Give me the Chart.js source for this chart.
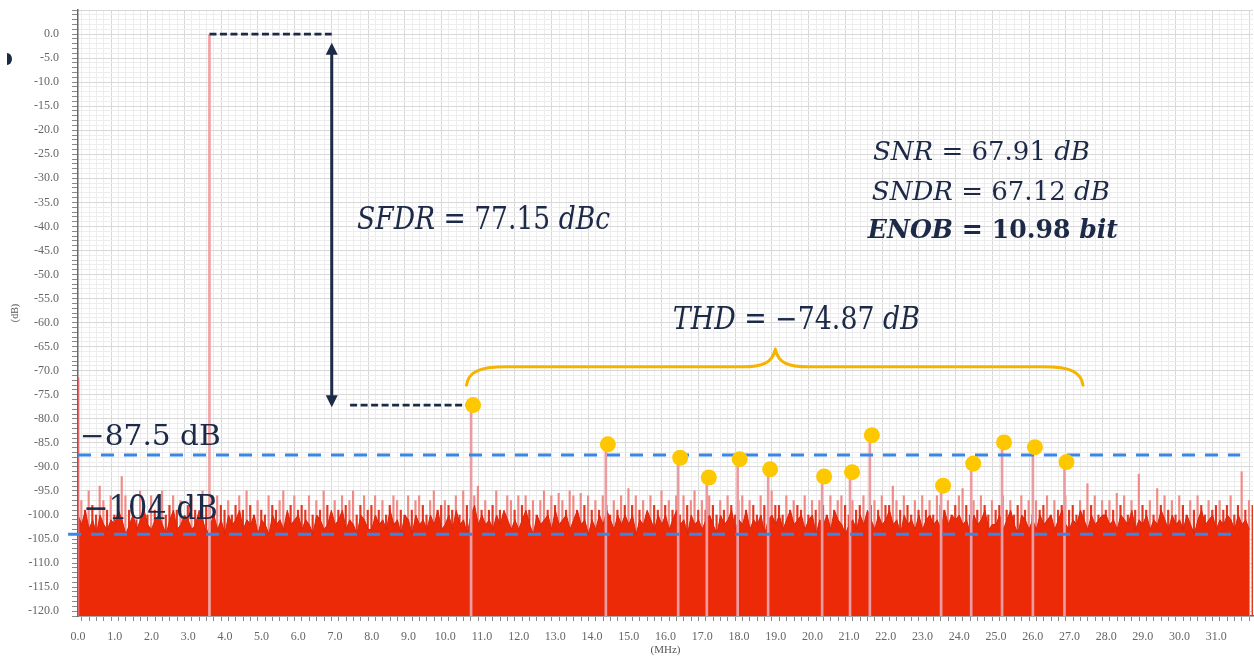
<!DOCTYPE html>
<html>
<head>
<meta charset="utf-8">
<script src="https://cdn.jsdelivr.net/npm/chart.js@4.4.1/dist/chart.umd.min.js"></script>
<style>
  html, body { margin: 0; padding: 0; background: #fff; }
</style>
</head>
<body>
<canvas id="fftChart" width="1254" height="657"></canvas>
<script>
// noise bins are 0.1 MHz apart, one row per MHz (0.0 .. 31.9)
let BIN_STEP = 0.1;

// upper noise spikes, sitting half a bin to the right
let grassDb = [
  -97, -99, -95, -98, -100, -94, -97, -99, -96, -100,
  -98, -92, -96, -99, -97, -101, -95, -98, -100, -96,
  -99, -97, -95, -100, -98, -96, -99, -97, -101, -98,
  -96, -99, -100, -95, -98, -97, -100, -96, -98, -99,
  -97, -100, -98, -96, -99, -95, -98, -100, -97, -99,
  -100, -96, -98, -99, -97, -95, -100, -98, -96, -99,
  -98, -99, -96, -100, -97, -99, -95, -98, -100, -97,
  -99, -96, -98, -97, -95, -100, -98, -96, -99, -98,
  -96, -99, -97, -100, -98, -96, -97, -99, -100, -96,
  -99, -97, -96, -98, -100, -97, -95, -99, -98, -97,
  -98, -99, -96, -100, -95, -98, -97, -96, -94, -99,
  -97, -99, -98, -95, -99, -100, -96, -97, -99, -96,
  -98, -96, -99, -97, -100, -97, -95, -99, -96, -98,
  -95.5, -97, -99, -95, -96, -99, -95.5, -98, -96, -99,
  -97, -99, -96, -98, -100, -97, -99, -96, -98, -94.5,
  -98, -96, -99, -97, -100, -96, -98, -99, -95, -98,
  -97, -99, -96, -100, -96, -98, -97, -95, -99, -97,
  -99, -96, -98, -100, -97, -99, -96, -98, -100, -97,
  -96, -99, -97, -98, -100, -96, -98, -99, -95, -98,
  -98, -100, -96, -99, -97, -98, -99, -96, -100, -97,
  -99, -97, -98, -100, -96, -99, -97, -96, -98, -100,
  -97, -99, -98, -96, -100, -98, -97, -99, -96, -98,
  -98, -94, -97, -99, -96, -98, -100, -97, -99, -96,
  -99, -97, -100, -96, -98, -99, -97, -100, -98, -96,
  -94.5, -98, -100, -97, -99, -96, -98, -100, -97, -99,
  -98, -96, -99, -97, -100, -98, -96, -99, -97, -100,
  -97, -99, -98, -96, -100, -97, -99, -98, -96, -99,
  -98, -100, -97, -99, -93.5, -98, -96, -100, -97, -99,
  -97, -99, -95.5, -98, -96, -100, -97, -99, -91.5, -98,
  -99, -97, -100, -94.5, -98, -96, -99, -97, -100, -96,
  -98, -100, -97, -99, -96, -98, -100, -97, -99, -98,
  -97, -99, -98, -96, -100, -98, -91, -99, -97, -98
];

// dense noise floor (filled)
let floorDb = [
  -100, -102, -99, -103, -101, -104, -100, -102, -103, -101,
  -102, -99, -101, -104, -102, -100, -103, -101, -99, -102,
  -103, -101, -100, -102, -104, -101, -99, -103, -102, -100,
  -101, -103, -102, -99, -101, -104, -102, -100, -103, -101,
  -104, -100, -102, -101, -99, -103, -101, -102, -100, -104,
  -101, -102, -104, -100, -102, -101, -103, -99, -102, -101,
  -100, -103, -101, -102, -104, -100, -101, -103, -102, -99,
  -102, -101, -99, -103, -101, -102, -104, -100, -101, -103,
  -103, -100, -102, -101, -103, -99, -102, -101, -104, -100,
  -101, -104, -100, -102, -101, -103, -100, -102, -99, -103,
  -102, -100, -103, -99, -102, -101, -104, -100, -98, -102,
  -100, -102, -101, -103, -100, -102, -99, -101, -103, -101,
  -103, -101, -99, -102, -104, -100, -102, -101, -100, -103,
  -99, -102, -101, -100, -103, -101, -99, -102, -101, -104,
  -101, -103, -100, -102, -99, -101, -103, -100, -102, -100,
  -102, -100, -104, -101, -102, -99, -101, -103, -100, -102,
  -100, -103, -101, -99, -102, -101, -104, -100, -102, -101,
  -103, -101, -100, -102, -104, -100, -102, -101, -99, -103,
  -101, -102, -99, -103, -101, -102, -100, -104, -101, -100,
  -102, -100, -103, -101, -99, -102, -101, -100, -103, -101,
  -100, -104, -101, -102, -100, -103, -99, -101, -102, -104,
  -102, -101, -103, -100, -102, -99, -101, -103, -100, -102,
  -101, -99, -102, -101, -104, -100, -102, -101, -103, -100,
  -103, -101, -100, -102, -101, -103, -99, -102, -100, -101,
  -100, -102, -101, -104, -100, -102, -101, -99, -103, -102,
  -102, -100, -103, -101, -99, -102, -104, -100, -101, -103,
  -101, -103, -100, -102, -101, -100, -103, -101, -99, -102,
  -103, -101, -102, -99, -101, -103, -100, -102, -101, -100,
  -100, -102, -101, -103, -100, -101, -102, -99, -103, -101,
  -102, -100, -103, -101, -102, -99, -101, -103, -100, -102,
  -101, -103, -100, -102, -104, -101, -99, -102, -101, -100,
  -103, -101, -102, -100, -101, -103, -100, -102, -101, -103
];

// DC bin and the fundamental
let toneMHz = [0.0, 3.58];
let toneDb = [-71.5, 0.0];

// harmonic / spur bins
let spurMHz = [10.76, 14.43, 16.40, 17.18, 18.02, 18.85, 20.32, 21.08, 21.62, 23.56, 24.38, 25.22, 26.06, 26.92];
let spurDb = [-77.15, -85.3, -88.1, -92.2, -88.4, -90.5, -92.0, -91.1, -83.4, -93.9, -89.3, -84.9, -85.9, -89.0];

// reference levels
let levelDb = [-87.5, -104];
let levelLabels = ['\u221287.5 dB', '\u2212104 dB'];

let Y_MIN = -121, Y_MAX = 5;
let X_MIN = 0, X_MAX = 32;

let NAVY = '#1c2a48';
let GOLD = '#f5b400';

function isMajor(v, step) {
  return Math.abs(v / step - Math.round(v / step)) < 1e-6;
}

function gridColor(step) {
  return c => (c.tick && !isMajor(c.tick.value, step) ? '#ededed' : '#d8d8d8');
}

function stem(x, y) {
  return { x: x, y: [Y_MIN, y] };
}

// math style text: italic symbols, upright numbers, squeezed into a given width
function drawMath(ctx, parts, x, y, width, size, weight) {
  let fontOf = p => (p[1] ? 'italic ' : '') + (weight || 'normal') + ' ' + size + 'px "DejaVu Serif"';
  let w = 0;
  parts.forEach(p => { ctx.font = fontOf(p); w += ctx.measureText(p[0]).width; });
  ctx.save();
  ctx.translate(x, y);
  ctx.scale(width / w, 1);
  ctx.fillStyle = NAVY;
  ctx.textAlign = 'left';
  ctx.textBaseline = 'alphabetic';
  let cx = 0;
  parts.forEach(p => {
    ctx.font = fontOf(p);
    ctx.fillText(p[0], cx, 0);
    cx += ctx.measureText(p[0]).width;
  });
  ctx.restore();
}

let notes = {
  id: 'notes',
  afterDraw(chart) {
    let ctx = chart.ctx;
    let xs = v => chart.scales.x.getPixelForValue(v);
    let ys = v => chart.scales.y.getPixelForValue(v);

    // SFDR double arrow
    let ax = xs(6.91), top = ys(-1.8), bot = ys(-77.6);
    ctx.save();
    ctx.strokeStyle = NAVY;
    ctx.fillStyle = NAVY;
    ctx.lineWidth = 3;
    ctx.beginPath();
    ctx.moveTo(ax, top + 10);
    ctx.lineTo(ax, bot - 10);
    ctx.stroke();
    ctx.beginPath();
    ctx.moveTo(ax, top); ctx.lineTo(ax - 6, top + 12); ctx.lineTo(ax + 6, top + 12); ctx.closePath();
    ctx.fill();
    ctx.beginPath();
    ctx.moveTo(ax, bot); ctx.lineTo(ax - 6, bot - 12); ctx.lineTo(ax + 6, bot - 12); ctx.closePath();
    ctx.fill();

    // THD brace
    let lx = xs(10.58), rx = xs(27.37), tx = xs(18.99);
    let endY = ys(-73.0), sh = ys(-69.2), tipY = ys(-65.5);
    ctx.strokeStyle = GOLD;
    ctx.lineWidth = 3;
    ctx.lineCap = 'round';
    ctx.lineJoin = 'round';
    ctx.beginPath();
    ctx.moveTo(lx, endY);
    ctx.bezierCurveTo(lx + 2, sh + 5, lx + 12, sh, lx + 40, sh);
    ctx.lineTo(tx - 34, sh);
    ctx.bezierCurveTo(tx - 12, sh, tx - 3, sh - 4, tx, tipY);
    ctx.bezierCurveTo(tx + 3, sh - 4, tx + 12, sh, tx + 34, sh);
    ctx.lineTo(rx - 40, sh);
    ctx.bezierCurveTo(rx - 12, sh, rx - 2, sh + 5, rx, endY);
    ctx.stroke();

    // small side marker
    ctx.fillStyle = NAVY;
    ctx.beginPath();
    ctx.ellipse(7, 59, 5, 6, 0, -Math.PI / 2, Math.PI / 2);
    ctx.fill();
    ctx.restore();

    drawMath(ctx, [['SFDR', 1], [' = 77.15 ', 0], ['dBc', 1]], xs(7.60), ys(-40.5), xs(14.49) - xs(7.60), 31);
    drawMath(ctx, [['THD', 1], [' = \u221274.87 ', 0], ['dB', 1]], xs(16.20), ys(-61.3), xs(22.93) - xs(16.20), 31);
    drawMath(ctx, [['SNR', 1], [' = 67.91 ', 0], ['dB', 1]], xs(21.65), ys(-26.2), xs(27.56) - xs(21.65), 26);
    drawMath(ctx, [['SNDR', 1], [' = 67.12 ', 0], ['dB', 1]], xs(21.62), ys(-34.5), xs(28.10) - xs(21.62), 26);
    drawMath(ctx, [['ENOB', 1], [' = 10.98 ', 0], ['bit', 1]], xs(21.51), ys(-42.4), xs(28.32) - xs(21.51), 26, 'bold');
    drawMath(ctx, [[levelLabels[0], 0]], xs(0.05), ys(-85.4), xs(3.89) - xs(0.05), 28);
    drawMath(ctx, [[levelLabels[1], 0]], xs(0.14), ys(-100.8), xs(3.81) - xs(0.14), 33);
  }
};

let tickFont = { family: 'Liberation Serif', size: 12 };

new Chart(document.getElementById('fftChart'), {
  type: 'line',
  data: {
    datasets: [
      {
        // spur markers
        type: 'scatter',
        data: spurMHz.map((f, i) => ({ x: f, y: spurDb[i] })),
        pointRadius: 8,
        pointBackgroundColor: '#fdc800',
        pointBorderWidth: 0,
        showLine: false,
        order: 0
      },
      {
        type: 'line',
        data: [{ x: X_MIN, y: levelDb[0] }, { x: 31.65, y: levelDb[0] }],
        borderColor: '#3a86e6',
        borderWidth: 3,
        borderDash: [13, 10],
        pointRadius: 0,
        clip: false,
        order: 1
      },
      {
        type: 'line',
        data: [{ x: -0.27, y: levelDb[1] }, { x: 31.65, y: levelDb[1] }],
        borderColor: '#3a86e6',
        borderWidth: 3,
        borderDash: [13, 10],
        pointRadius: 0,
        clip: false,
        order: 1
      },
      {
        // SFDR guides: fundamental level and largest spur level
        type: 'line',
        data: [{ x: toneMHz[1], y: toneDb[1] }, { x: 6.91, y: toneDb[1] }],
        borderColor: NAVY,
        borderWidth: 2.8,
        borderDash: [7, 3.5],
        pointRadius: 0,
        clip: false,
        order: 1
      },
      {
        type: 'line',
        data: [{ x: 7.41, y: spurDb[0] }, { x: spurMHz[0], y: spurDb[0] }],
        borderColor: NAVY,
        borderWidth: 2.8,
        borderDash: [7, 3.5],
        pointRadius: 0,
        order: 1
      },
      {
        type: 'bar',
        data: spurMHz.map((f, i) => stem(f, spurDb[i])),
        backgroundColor: '#eb9ca2',
        barThickness: 2,
        order: 2
      },
      {
        type: 'bar',
        data: toneMHz.map((f, i) => stem(f, toneDb[i])),
        backgroundColor: ['#e26a6a', '#f0a2a2'],
        barThickness: 2,
        order: 2
      },
      {
        // noise floor
        type: 'line',
        data: floorDb.map((v, i) => ({ x: i * BIN_STEP, y: v })),
        borderColor: '#d8260e',
        borderWidth: 1,
        backgroundColor: '#ec2a08',
        fill: 'start',
        pointRadius: 0,
        tension: 0,
        order: 3
      },
      {
        type: 'bar',
        data: grassDb.map((v, i) => stem(i * BIN_STEP + BIN_STEP / 2, v)),
        backgroundColor: c => (c.raw && c.raw.y[1] > -98 ? '#f08a85' : '#e2361f'),
        barThickness: 1.5,
        order: 4
      }
    ]
  },
  options: {
    responsive: false,
    animation: false,
    events: [],
    layout: { autoPadding: false, padding: { top: 10, right: 1, left: 0, bottom: 0 } },
    plugins: {
      legend: { display: false },
      tooltip: { enabled: false }
    },
    scales: {
      x: {
        type: 'linear',
        min: X_MIN,
        max: X_MAX,
        offset: false,
        afterFit: s => {
          s.height = 41;
          s.paddingLeft = 0;
          s.paddingRight = 0;
        },
        ticks: {
          stepSize: 0.2,
          autoSkip: false,
          maxRotation: 0,
          color: '#666',
          font: tickFont,
          padding: 9,
          callback: v => (isMajor(v, 1) && v < 31.5 ? v.toFixed(1) : '')
        },
        grid: {
          color: gridColor(1),
          tickLength: 5,
          tickColor: '#8a8a8a'
        },
        border: { color: '#666', width: 1.5 },
        title: {
          display: true,
          text: '(MHz)',
          color: '#555',
          font: { family: 'Liberation Serif', size: 11 },
          padding: { top: 0, bottom: 0 }
        }
      },
      y: {
        type: 'linear',
        min: Y_MIN,
        max: Y_MAX,
        afterFit: s => {
          s.width = 78;
          s.paddingTop = 0;
          s.paddingBottom = 0;
        },
        ticks: {
          stepSize: 1,
          autoSkip: false,
          color: '#666',
          font: tickFont,
          padding: 13,
          callback: v => (v <= 0 && isMajor(v, 5) ? v.toFixed(1) : '')
        },
        grid: {
          color: gridColor(5),
          tickLength: 6,
          tickColor: '#8a8a8a'
        },
        border: { color: '#666', width: 1.5 },
        title: {
          display: true,
          text: '(dB)',
          color: '#555',
          font: { family: 'Liberation Serif', size: 10 },
          padding: { top: 9, bottom: 0 }
        }
      }
    }
  },
  plugins: [notes]
});
</script>
</body>
</html>
